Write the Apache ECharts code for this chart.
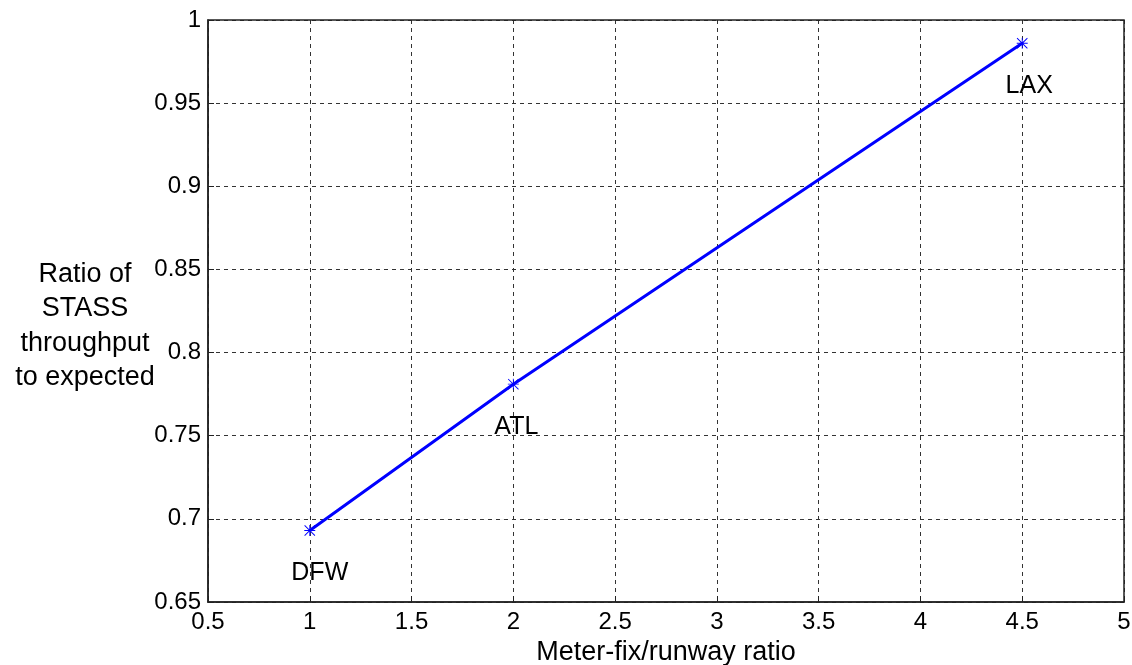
<!DOCTYPE html>
<html><head><meta charset="utf-8">
<script src="https://cdn.jsdelivr.net/npm/echarts@6/dist/echarts.min.js"></script>
<style>html,body{margin:0;padding:0;background:#fff}#c{width:1132px;height:665px}</style>
</head><body><div id="c"></div>
<script>
const airports = ['DFW', 'ATL', 'LAX'];
const meterFixRatio = [1, 2, 4.5];
const throughputRatio = [0.693, 0.781, 0.986];
const xTicks = [0.5, 5, 0.5];
const yTicks = [0.65, 1, 0.05];
const labelOffsets = [[10, 43], [3, 43], [7, 43]];

const FONT = 'Arial, "Liberation Sans", sans-serif';
const asterisk = 'path://M4.6 0H5.4V10H4.6Z M0 4.6H10V5.4H0Z M0.6 0L10 9.4L9.4 10L0 0.6Z M9.4 0L10 0.6L0.6 10L0 9.4Z';

const chart = echarts.init(document.getElementById('c'));
chart.setOption({
  animation: false,
  backgroundColor: '#fff',
  grid: {left: 208, top: 20, right: 8, bottom: 63, show: false, containLabel: false, outerBoundsMode: 'none'},
  xAxis: {
    type: 'value', min: xTicks[0], max: xTicks[1], interval: xTicks[2],
    name: 'Meter-fix/runway ratio', nameLocation: 'middle', nameGap: 37,
    nameTextStyle: {fontFamily: FONT, fontSize: 27, color: '#000'},
    axisLine: {show: true, onZero: false, lineStyle: {color: '#222', width: 1.5}},
    axisTick: {show: true, inside: true, length: 6, lineStyle: {color: '#222'}},
    axisLabel: {fontFamily: FONT, fontSize: 24, color: '#000', margin: 8,
      formatter: v => String(+v.toFixed(2))},
    splitLine: {show: true, lineStyle: {color: '#333', type: [4, 4], width: 1}}
  },
  yAxis: {
    type: 'value', min: yTicks[0], max: yTicks[1], interval: yTicks[2],
    axisLine: {show: true, onZero: false, lineStyle: {color: '#222', width: 1.5}},
    axisTick: {show: true, inside: true, length: 6, lineStyle: {color: '#222'}},
    axisLabel: {fontFamily: FONT, fontSize: 24, color: '#000', margin: 7,
      formatter: v => String(+v.toFixed(2))},
    splitLine: {show: true, lineStyle: {color: '#333', type: [4, 4], width: 1}}
  },
  graphic: [
    {type: 'rect', shape: {x: 208, y: 20, width: 916, height: 582}, silent: true,
      style: {fill: 'none', stroke: '#222', lineWidth: 1.5}, z: 10},
    {type: 'text', silent: true, position: [85, 257],
      style: {text: 'Ratio of\nSTASS\nthroughput\nto expected', x: 0, y: 0,
        align: 'center', fontFamily: FONT, fontSize: 27, lineHeight: 34.5, fill: '#000'}}
  ],
  series: [{
    type: 'line',
    data: meterFixRatio.map((x, i) => ({
      value: [x, throughputRatio[i]],
      label: {show: true, formatter: airports[i], position: 'inside', offset: labelOffsets[i]}
    })),
    symbol: asterisk, symbolSize: 11, showSymbol: true,
    itemStyle: {color: '#0000ff'},
    lineStyle: {color: '#0000ff', width: 3},
    label: {fontFamily: FONT, fontSize: 25, color: '#000'}
  }]
});
</script></body></html>
